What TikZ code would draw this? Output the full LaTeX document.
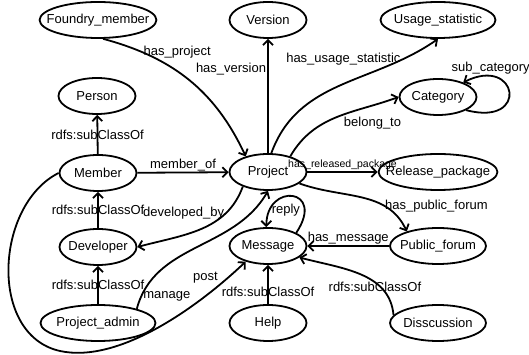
\documentclass[tikz,border=0pt]{standalone}
\usepackage{fontspec}
\setmainfont{Liberation Sans}
\usetikzlibrary{shapes.geometric}
\usetikzlibrary{arrows.meta}

\begin{document}
\begin{tikzpicture}[x=1pt,y=1pt,line width=1.8pt,>={Straight Barb[length=5pt,width=10pt]},
    cls/.style={draw,ellipse,inner xsep=-10pt,inner ysep=0pt,minimum width=77pt,minimum height=36pt,font=\fontsize{13pt}{15pt}\selectfont},
    widecls/.style={cls,minimum width=115pt},
    midcls/.style={cls,minimum width=96pt},
    lbl/.style={font=\fontsize{13pt}{15pt}\selectfont,inner sep=1pt},
    smalllbl/.style={font=\fontsize{10.5pt}{12pt}\selectfont,inner sep=1pt}]
        \useasboundingbox (0,0) rectangle (529,355);
        % classes
        \node[widecls] (fm) at (98,335) {Foundry\_member};
        \node[cls] (ver) at (268,335) {Version};
        \node[widecls] (usage) at (438,335) {Usage\_statistic};
        \node[cls] (person) at (97,259) {Person};
        \node[cls] (cat) at (438,258) {Category};
        \node[cls] (member) at (98,182) {Member};
        \node[cls] (proj) at (268,183) {Project};
        \node[widecls] (rel) at (438,183) {Release\_package};
        \node[cls] (dev) at (98,108) {Developer};
        \node[cls] (msg) at (268,109) {Message};
        \node[midcls] (forum) at (438,109) {Public\_forum};
        \node[widecls] (admin) at (98,32) {Project\_admin};
        \node[cls] (help) at (268,32) {Help};
        \node[midcls] (disc) at (438,32) {Disscussion};
        % properties
        \draw[->] (fm.-75) to[out=-15,in=115] node[lbl,pos=0.2,right] {has\_project} (proj.145);
        \draw[->] (proj) -- node[lbl,pos=0.74,left] {has\_version} (ver);
        \draw[->] (proj.80) to[out=70,in=215] node[lbl,pos=0.82,left] {has\_usage\_statistic} (usage.south);
        \draw[->] (cat.-25) .. controls (530,228) and (518,300) .. node[lbl,pos=0.8,above] {sub\_category} (cat.30);
        \draw[->] (proj.35) to[out=60,in=200] node[lbl,pos=0.55,below right] {belong\_to} (cat.west);
        \draw[->] (proj) -- node[smalllbl,above] {has\_released\_package} (rel);
        \draw[->] (member) -- node[lbl,above] {member\_of} (proj);
        \draw[->] (proj.-150) to[out=250,in=15] node[lbl,pos=0.25,left] {developed\_by} (dev.east);
        \draw[->] (admin.20) to[out=75,in=240] node[lbl,pos=0.07,right] {manage} (proj.south);
        \draw[->] (member.west) .. controls (-5,150) and (-12,20) .. (60,4)
            .. controls (120,-9) and (200,50) .. node[lbl,pos=0.83,above left] {post} (msg.-145);
        \draw[->] (proj.-20) to[out=-20,in=115] node[lbl,pos=0.7,right] {has\_public\_forum} (forum.155);
        \draw[->] (forum) -- node[lbl,above,inner sep=0.5pt] {has\_message} (msg);
        \draw[->] (msg.25) .. controls +(30,45) and +(0,45) .. node[lbl,pos=0.85,right] {reply} (msg.95);
        % subclasses
        \draw[->] (member) -- node[lbl] {rdfs:subClassOf} (person);
        \draw[->] (dev) -- node[lbl] {rdfs:subClassOf} (member);
        \draw[->] (admin) -- node[lbl] {rdfs:subClassOf} (dev);
        \draw[->] (help) -- node[lbl,pos=0.3] {rdfs:subClassOf} (msg);
        \draw[->] (disc.170) to[out=95,in=-15] node[lbl,pos=0.28,xshift=-6pt] {rdfs:subClassOf} (msg.-20);
    \end{tikzpicture}
\end{document}
